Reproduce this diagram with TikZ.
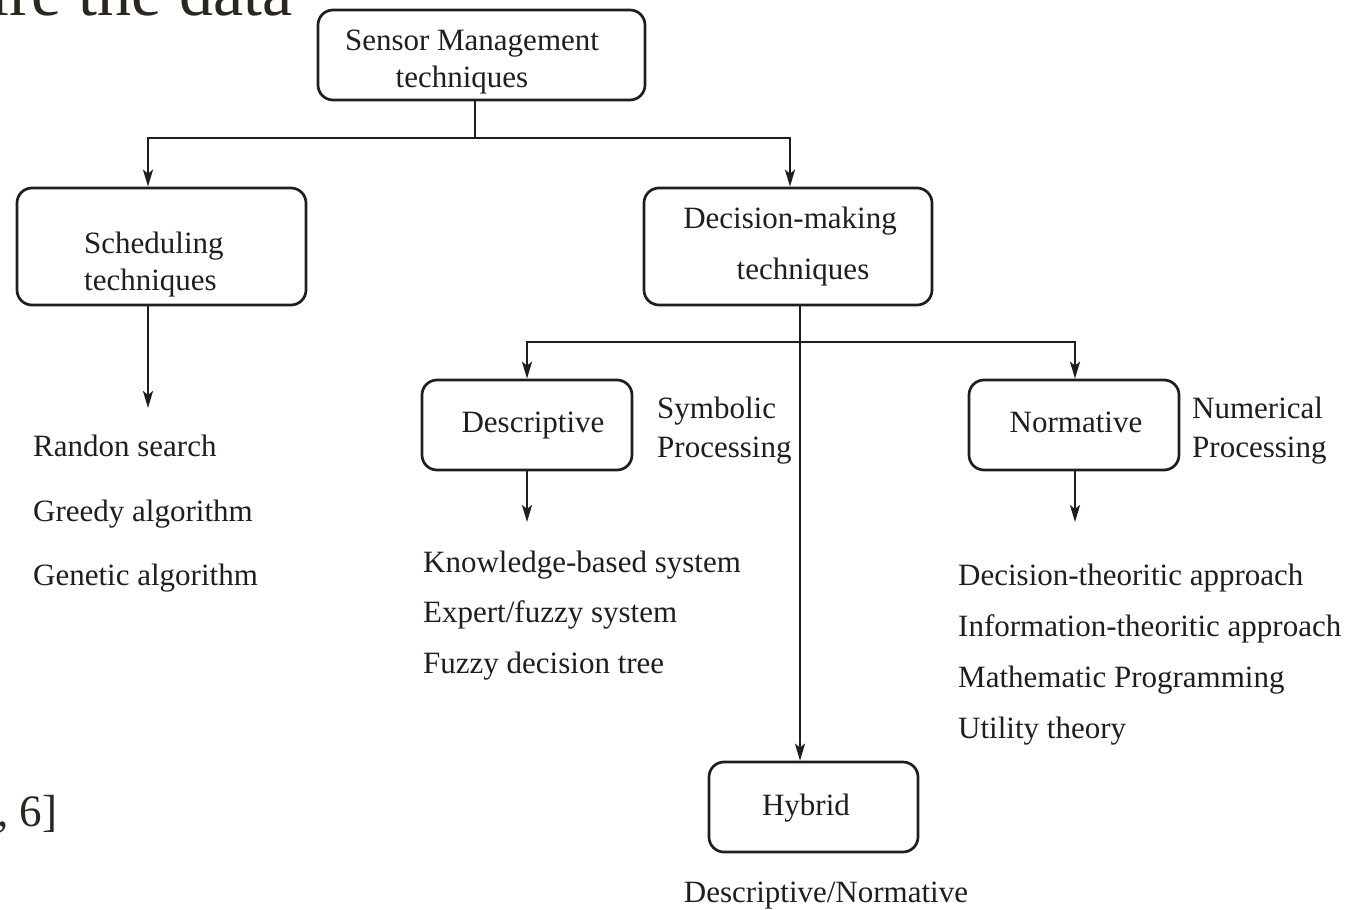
\documentclass[tikz,border=0pt]{standalone}
\usepackage{fontspec}
\setmainfont{Liberation Serif}
\usetikzlibrary{arrows.meta}
\definecolor{ink}{HTML}{1E1E1E}
\definecolor{pagetext}{HTML}{2B2620}
\begin{document}
\begin{tikzpicture}[x=1pt,y=-1pt,
  box/.style={draw=ink, rounded corners=15pt, line width=2.7pt, inner sep=0pt},
  txt/.style={text=ink, font=\fontsize{31}{34}\selectfont, inner sep=0pt},
  lbl/.style={txt, anchor=base west},
  ctr/.style={txt, anchor=base},
  conn/.style={draw=ink, line width=2.4pt},
  arr/.style={conn, -{Stealth[length=17pt,width=10pt,inset=4pt]}},
  page/.style={text=pagetext, inner sep=0pt, anchor=base west}]
\useasboundingbox (0,0) rectangle (1355,910);
\clip (0,0) rectangle (1355,910);

% surrounding page text
\node[page, font=\fontsize{68}{68}\selectfont] (pgtop) at (-10,16) {ire the data};
\node[page, font=\fontsize{45}{45}\selectfont] (pgbot) at (-3,826) {, 6]};

% boxes
\node[box, minimum width=327pt, minimum height=90pt] (sm) at (481.5,55) {};
\node[box, minimum width=289pt, minimum height=117pt] (sch) at (161.5,246.5) {};
\node[box, minimum width=288pt, minimum height=117pt] (dm) at (788,246.5) {};
\node[box, minimum width=210pt, minimum height=90pt] (desc) at (527,425) {};
\node[box, minimum width=210pt, minimum height=90pt] (norm) at (1074,425) {};
\node[box, minimum width=209pt, minimum height=90pt] (hyb) at (813.5,807) {};

% box texts
\node[ctr] (smA) at (472,50) {Sensor Management};
\node[ctr] (smB) at (462,87) {techniques};
\node[lbl] (schA) at (84,253) {Scheduling};
\node[lbl] (schB) at (84,290) {techniques};
\node[ctr] (dmA) at (790,228) {Decision-making};
\node[ctr] (dmB) at (803,279) {techniques};
\node[ctr] (descA) at (533,432) {Descriptive};
\node[ctr] (normA) at (1076,432) {Normative};
\node[ctr] (hybA) at (806,815) {Hybrid};

% side notes
\node[lbl] (symA) at (657,418) {Symbolic};
\node[lbl] (symB) at (657,457) {Processing};
\node[lbl] (numA) at (1192,418) {Numerical};
\node[lbl] (numB) at (1192,457) {Processing};
\node[ctr] (hybN) at (826,902) {Descriptive/Normative};

% method lists
\node[lbl] (s1) at (33,456) {Randon search};
\node[lbl] (s2) at (33,521) {Greedy algorithm};
\node[lbl] (s3) at (33,585) {Genetic algorithm};
\node[lbl] (d1) at (423,572) {Knowledge-based system};
\node[lbl] (d2) at (423,622) {Expert/fuzzy system};
\node[lbl] (d3) at (423,673) {Fuzzy decision tree};
\node[lbl] (n1) at (958,585) {Decision-theoritic approach};
\node[lbl] (n2) at (958,636) {Information-theoritic approach};
\node[lbl] (n3) at (958,687) {Mathematic Programming};
\node[lbl] (n4) at (958,738) {Utility theory};

% free ends of the list arrows
\coordinate (schEnd) at (148,408);
\coordinate (descEnd) at (527,522);
\coordinate (normEnd) at (1075,522);

% connectors
\coordinate (smFork) at (475,138);
\draw[conn] (sm.south -| smFork) -- (smFork);
\draw[arr] (smFork) -| (sch.north -| schEnd);
\draw[arr] (smFork) -| ([xshift=2pt]dm.north);

\coordinate (dmFork) at (800,342);
\draw[arr] (dm.south -| dmFork) -- (hyb.north -| dmFork);
\draw[arr] (dmFork) -| (desc.north);
\draw[arr] (dmFork) -| (norm.north -| normEnd);

\draw[arr] (sch.south -| schEnd) -- (schEnd);
\draw[arr] (desc.south) -- (descEnd);
\draw[arr] (norm.south -| normEnd) -- (normEnd);
\end{tikzpicture}
\end{document}
